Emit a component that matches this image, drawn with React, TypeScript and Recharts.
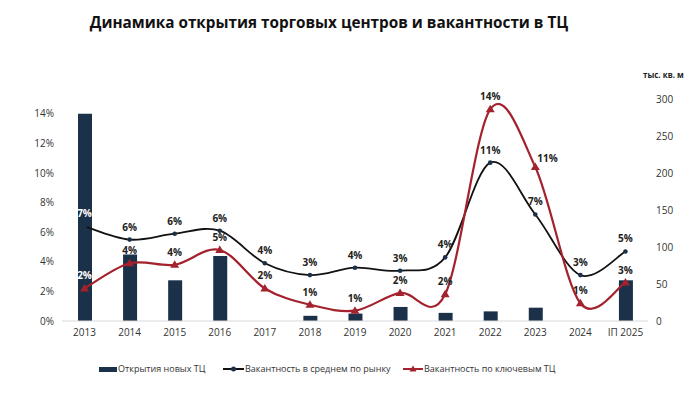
import React from 'react';
import {
  Bar,
  ComposedChart,
  LabelList,
  Line,
  XAxis,
  YAxis,
} from 'recharts';

const years = ['2013', '2014', '2015', '2016', '2017', '2018', '2019', '2020', '2021', '2022', '2023', '2024', 'ІП 2025'];

// new malls opened, thousand sq m (right axis)
const openings = [280, 90, 55, 88, 0, 7, 10, 19, 11, 13, 18, 0, 55];

// vacancy, share (left axis)
const avgVacancy = [0.064, 0.055, 0.059, 0.061, 0.039, 0.031, 0.036, 0.034, 0.043, 0.107, 0.072, 0.031, 0.047];
const keyVacancy = [0.022, 0.039, 0.038, 0.048, 0.022, 0.011, 0.007, 0.019, 0.018, 0.143, 0.104, 0.012, 0.026];

const avgLabels = ['7%', '6%', '6%', '6%', '4%', '3%', '4%', '3%', '4%', '11%', '7%', '3%', '5%'];
const keyLabels = ['2%', '4%', '4%', '5%', '2%', '1%', '1%', '2%', '2%', '14%', '11%', '1%', '3%'];

const pctTicks = [0, 0.02, 0.04, 0.06, 0.08, 0.1, 0.12, 0.14];
const areaTicks = [0, 50, 100, 150, 200, 250, 300];

const seriesNames = ['Открытия новых ТЦ', 'Вакантность в среднем по рынку', 'Вакантность по ключевым ТЦ'];

const BAR = '#1b3149';
const BLACK = '#111111';
const RED = '#a3222d';
const FONT = '"Open Sans", "Noto Sans", sans-serif';

const data = years.map((year, i) => ({
  year,
  openings: openings[i],
  avg: avgVacancy[i],
  key: keyVacancy[i],
}));

// Excel-style smoothed line (Catmull-Rom through the points)
const smoothCurve = (context: any) => {
  let pts: [number, number][] = [];
  return {
    areaStart() {},
    areaEnd() {},
    lineStart() {
      pts = [];
    },
    point(x: number, y: number) {
      pts.push([+x, +y]);
    },
    lineEnd() {
      if (!pts.length) return;
      context.moveTo(pts[0][0], pts[0][1]);
      for (let i = 0; i < pts.length - 1; i++) {
        const p0 = pts[i - 1] || pts[i];
        const p1 = pts[i];
        const p2 = pts[i + 1];
        const p3 = pts[i + 2] || p2;
        context.bezierCurveTo(
          p1[0] + (p2[0] - p0[0]) / 6,
          p1[1] + (p2[1] - p0[1]) / 6,
          p2[0] - (p3[0] - p1[0]) / 6,
          p2[1] - (p3[1] - p1[1]) / 6,
          p2[0],
          p2[1],
        );
      }
    },
  };
};

const makeLabel = (labels: string[], rightIdx: number) => (props: any) => {
  const { x, y, index } = props;
  const right = index === rightIdx;
  return (
    <text
      x={right ? x + 2 : x}
      y={right ? y - 5 : y - 9}
      textAnchor={right ? 'start' : 'middle'}
      fill={index === 0 ? '#ffffff' : '#222222'}
      fontSize={10}
      fontWeight={700}
      fontFamily={FONT}
    >
      {labels[index]}
    </text>
  );
};

const TriangleDot = (props: any) => {
  const { cx, cy, index } = props;
  if (cx == null || cy == null) return <g key={index} />;
  return (
    <path
      key={index}
      d={`M${cx},${cy - 4.5} L${cx + 4.5},${cy + 3} L${cx - 4.5},${cy + 3} Z`}
      fill={RED}
    />
  );
};

const legendText: React.CSSProperties = {
  position: 'absolute',
  top: 0,
  fontFamily: FONT,
  fontSize: 9,
  lineHeight: '14px',
  color: '#333',
  whiteSpace: 'nowrap',
};

const Legend = () => (
  <div style={{ position: 'absolute', top: 362, left: 0, width: 700, height: 14 }}>
    <span style={{ position: 'absolute', left: 99, top: 5, width: 18, height: 5, background: BAR }} />
    <span style={{ ...legendText, left: 118 }}>{seriesNames[0]}</span>
    <svg width={21} height={8} style={{ position: 'absolute', left: 223, top: 3 }}>
      <line x1={0} y1={4} x2={21} y2={4} stroke={BLACK} strokeWidth={2} />
      <circle cx={10.5} cy={4} r={2.5} fill={BAR} />
    </svg>
    <span style={{ ...legendText, left: 245 }}>{seriesNames[1]}</span>
    <svg width={20} height={8} style={{ position: 'absolute', left: 403, top: 3 }}>
      <line x1={0} y1={4} x2={20} y2={4} stroke={RED} strokeWidth={2} />
      <path d="M10,0.5 L13.5,6.5 L6.5,6.5 Z" fill={RED} />
    </svg>
    <span style={{ ...legendText, left: 424 }}>{seriesNames[2]}</span>
  </div>
);

export default function App() {
  const tick = { fontSize: 10, fill: '#333', fontFamily: FONT };
  return (
    <div
      style={{
        position: 'absolute',
        left: 0,
        top: 0,
        width: 700,
        height: 397,
        background: '#fff',
        overflow: 'hidden',
      }}
    >
      <div
        style={{
          position: 'absolute',
          top: 12,
          left: 0,
          width: 658,
          textAlign: 'center',
          fontFamily: FONT,
          fontWeight: 700,
          fontSize: 15.3,
          color: '#111',
        }}
      >
        Динамика открытия торговых центров и вакантности в ТЦ
      </div>
      <div
        style={{
          position: 'absolute',
          top: 69,
          left: 643,
          fontFamily: FONT,
          fontWeight: 700,
          fontSize: 8,
          color: '#222',
        }}
      >
        тыс. кв. м
      </div>
      <ComposedChart
        width={700}
        height={397}
        data={data}
        margin={{ top: 99, right: 0, bottom: 46, left: 0 }}
        barCategoryGap={0}
      >
        <XAxis
          dataKey="year"
          tick={tick}
          tickLine={false}
          axisLine={{ stroke: '#d9d9d9' }}
          height={30}
          interval={0}
        />
        <YAxis
          yAxisId="pct"
          domain={[0, 0.15]}
          ticks={pctTicks}
          tickFormatter={(v: number) => `${Math.round(v * 100)}%`}
          tick={tick}
          axisLine={false}
          tickLine={false}
          width={62}
          interval={0}
        />
        <YAxis
          yAxisId="area"
          orientation="right"
          domain={[0, 300]}
          ticks={areaTicks}
          tick={tick}
          axisLine={false}
          tickLine={false}
          width={52}
          interval={0}
        />
        <Bar yAxisId="area" dataKey="openings" fill={BAR} barSize={14} isAnimationActive={false} />
        <Line
          yAxisId="pct"
          dataKey="avg"
          type={smoothCurve as any}
          stroke={BLACK}
          strokeWidth={1.8}
          dot={{ r: 2.3, fill: BAR, stroke: BAR, strokeWidth: 0 }}
          isAnimationActive={false}
        >
          <LabelList dataKey="avg" content={makeLabel(avgLabels, -1)} />
        </Line>
        <Line
          yAxisId="pct"
          dataKey="key"
          type={smoothCurve as any}
          stroke={RED}
          strokeWidth={2.2}
          dot={TriangleDot}
          isAnimationActive={false}
        >
          <LabelList dataKey="key" content={makeLabel(keyLabels, 10)} />
        </Line>
      </ComposedChart>
      <Legend />
    </div>
  );
}
